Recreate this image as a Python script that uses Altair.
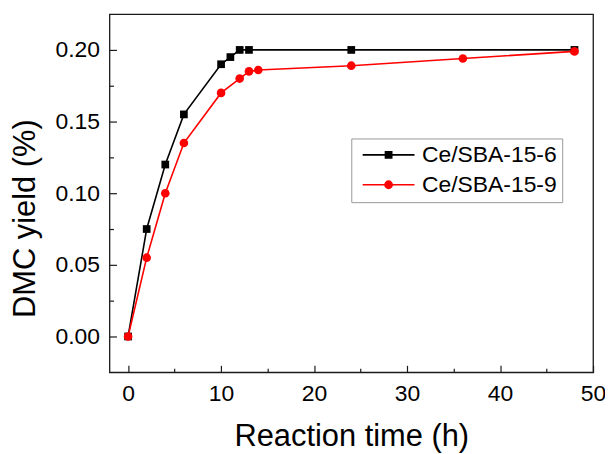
import altair as alt
import pandas as pd

series_names = ["Ce/SBA-15-6", "Ce/SBA-15-9"]
series_colors = ["#000000", "#ff0000"]

time_6 = [0, 2, 4, 6, 10, 11, 12, 13, 24, 48]
yield_6 = [0.0, 0.075, 0.12, 0.155, 0.19, 0.195, 0.2, 0.2, 0.2, 0.2]

time_9 = [0, 2, 4, 6, 10, 12, 13, 14, 24, 36, 48]
yield_9 = [0.0, 0.055, 0.10, 0.135, 0.17, 0.18, 0.185, 0.186, 0.189, 0.194, 0.199]

x_major = [0, 10, 20, 30, 40, 50]
x_minor = [5, 15, 25, 35, 45]
y_major = [0.0, 0.05, 0.10, 0.15, 0.20]
y_minor = [0.025, 0.075, 0.125, 0.175]

rows = []
for t, v in zip(time_6, yield_6):
    rows.append({"series": series_names[0], "time": t, "yield": v})
for t, v in zip(time_9, yield_9):
    rows.append({"series": series_names[1], "time": t, "yield": v})
df = pd.DataFrame(rows)

FONT = "Liberation Sans"
x_scale = alt.Scale(domain=[-2, 50], nice=False, zero=False)
y_scale = alt.Scale(domain=[-0.025, 0.225], nice=False, zero=False)
color_scale = alt.Scale(domain=series_names, range=series_colors)

x_axis = alt.Axis(
    values=x_major, orient="bottom", offset=-7, tickSize=7, tickWidth=1.2,
    tickColor="#1a1a1a", domain=False, grid=False, format="d",
    labelFont=FONT, labelFontSize=23, labelColor="black", labelPadding=10,
    labelFlush=False, labelOverlap=False, labelBound=False,
    title="Reaction time (h)", titleFont=FONT, titleFontSize=31,
    titleFontWeight="normal", titleColor="black",
    titleX=243, titleY=81, titleBaseline="alphabetic", titleAlign="center",
)
y_axis = alt.Axis(
    values=y_major, orient="left", offset=-7, tickSize=7, tickWidth=1.2,
    tickColor="#1a1a1a", domain=False, grid=False, format=".2f",
    labelFont=FONT, labelFontSize=23, labelColor="black", labelPadding=10,
    labelFlush=False, labelOverlap=False, labelBound=False,
    title="DMC yield (%)", titleFont=FONT, titleFontSize=31,
    titleFontWeight="normal", titleColor="black",
    titleX=-82, titleY=205, titleAngle=270, titleBaseline="alphabetic",
    titleAlign="center",
)
x_axis_minor = alt.Axis(
    values=x_minor, orient="bottom", offset=-4, tickSize=4, tickWidth=1.2,
    tickColor="#1a1a1a", domain=False, grid=False, labels=False, title=None,
)
y_axis_minor = alt.Axis(
    values=y_minor, orient="left", offset=-4, tickSize=4, tickWidth=1.2,
    tickColor="#1a1a1a", domain=False, grid=False, labels=False, title=None,
)

# legend symbols: line segment with the marker in the middle
sq_path = "M-2.74,0L2.74,0M-0.33,-0.33L0.33,-0.33L0.33,0.33L-0.33,0.33Z"
ci_path = "M-2.74,0L2.74,0M0.38,0A0.38,0.38,0,1,1,-0.38,0A0.38,0.38,0,1,1,0.38,0Z"

legend = alt.Legend(
    title=None, orient="none", legendX=243, legendY=125, padding=5,
    strokeColor="#999999", fillColor="white",
    labelFont=FONT, labelFontSize=23, labelColor="black",
    symbolOffset=21, labelOffset=22, rowPadding=6,
    symbolSize=361, symbolStrokeWidth=1.6, symbolOpacity=1,
)

base = alt.Chart(df)


def series_layers(i, shape, size, first=False):
    sub = base.transform_filter(alt.datum.series == series_names[i])
    ln = sub.mark_line(strokeWidth=1.6, color=series_colors[i]).encode(
        x=alt.X("time:Q", scale=x_scale, axis=x_axis if first else None),
        y=alt.Y("yield:Q", scale=y_scale, axis=y_axis if first else None),
    )
    pt = sub.mark_point(filled=True, opacity=1, shape=shape, size=size,
                        color=series_colors[i]).encode(
        x=alt.X("time:Q", scale=x_scale, axis=None),
        y=alt.Y("yield:Q", scale=y_scale, axis=None),
    )
    return [ln, pt]


legend_layer = base.mark_point(filled=True, opacity=0, size=60).encode(
    x=alt.X("time:Q", scale=x_scale, axis=None),
    y=alt.Y("yield:Q", scale=y_scale, axis=None),
    shape=alt.Shape("series:N", scale=alt.Scale(domain=series_names, range=[sq_path, ci_path]), legend=legend),
    fill=alt.Fill("series:N", scale=color_scale, legend=legend),
    stroke=alt.Stroke("series:N", scale=color_scale, legend=legend),
)

minor = base.mark_point(opacity=0).encode(
    x=alt.X("time:Q", scale=x_scale, axis=x_axis_minor),
    y=alt.Y("yield:Q", scale=y_scale, axis=y_axis_minor),
)

layers = series_layers(0, "square", 60, first=True) + series_layers(1, "circle", 75)

chart = (
    alt.layer(*layers, legend_layer, minor)
    .resolve_axis(x="independent", y="independent")
    .properties(
        width=486, height=360,
        autosize=alt.AutoSizeParams(type="none"),
        padding={"left": 102, "top": 5, "right": 12, "bottom": 85},
        background="white",
    )
    .configure_view(stroke="#1a1a1a", strokeWidth=1.3)
)

chart.save("out.html", embed_options={"renderer": "svg", "actions": False})
